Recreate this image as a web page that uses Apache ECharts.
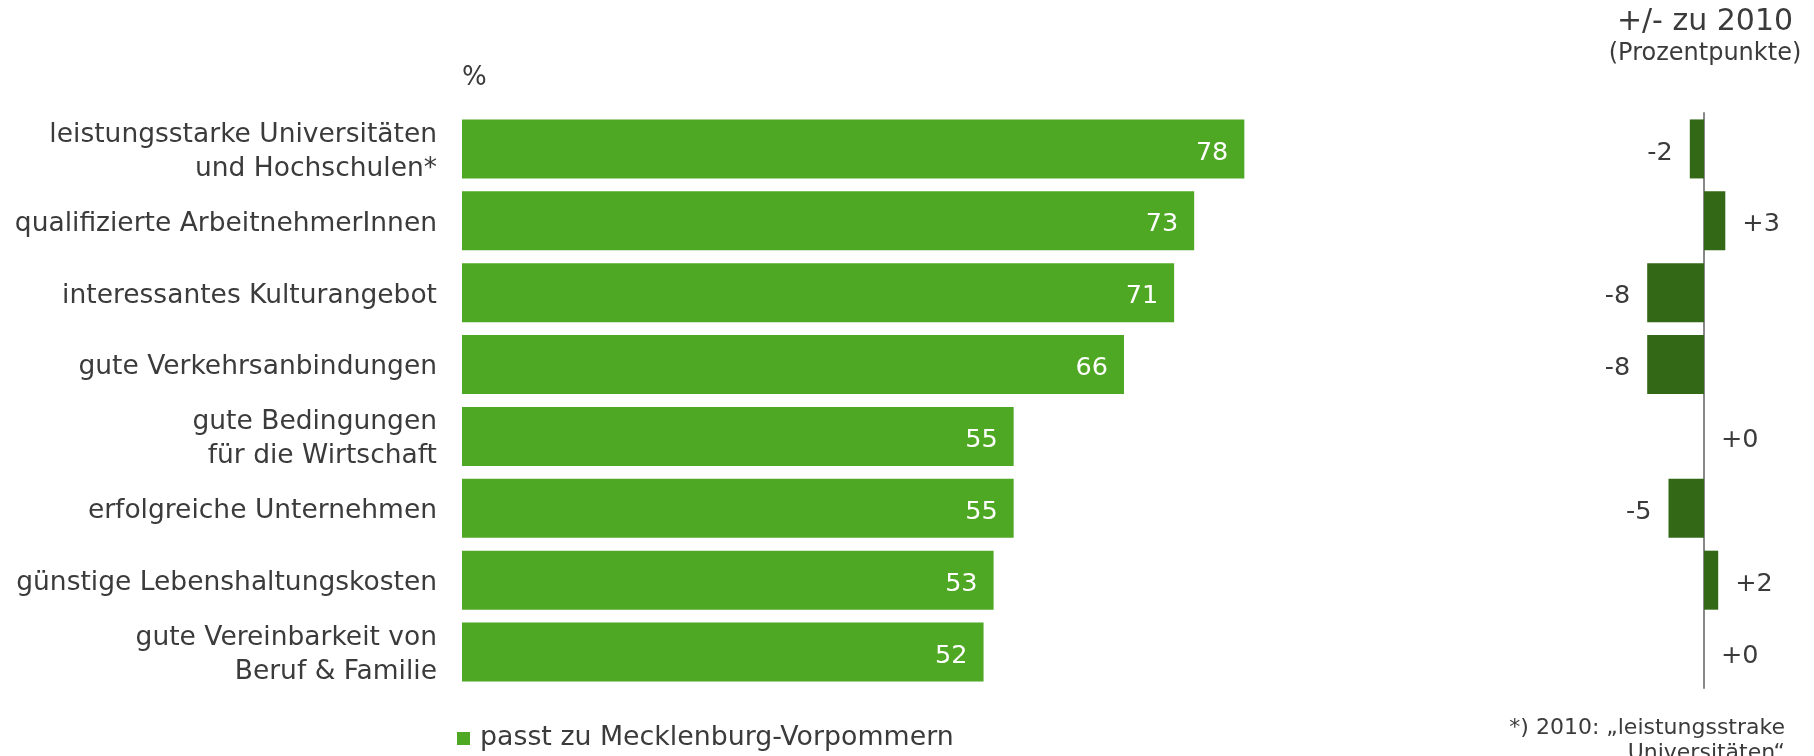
<!DOCTYPE html>
<html>
<head>
<meta charset="utf-8">
<script src="https://cdn.jsdelivr.net/npm/echarts@6/dist/echarts.min.js"></script>
<style>
  html, body { margin: 0; padding: 0; background: #fff; }
  #main { width: 1814px; height: 756px; }
</style>
</head>
<body>
<div id="main"></div>
<script>
// Merkmale, die zu Mecklenburg-Vorpommern passen
let categories = [
  'leistungsstarke Universitäten\nund Hochschulen*',
  'qualifizierte ArbeitnehmerInnen',
  'interessantes Kulturangebot',
  'gute Verkehrsanbindungen',
  'gute Bedingungen\nfür die Wirtschaft',
  'erfolgreiche Unternehmen',
  'günstige Lebenshaltungskosten',
  'gute Vereinbarkeit von\nBeruf & Familie'
];
let shares = [78, 73, 71, 66, 55, 55, 53, 52];
let changes = [-2, 3, -8, -8, 0, -5, 2, 0];

const FONT = '"DejaVu Sans", Verdana, sans-serif';
const TEXT = '#3b3b3b';
const GREEN = '#4fa823';
const DARK = '#336916';

let myChart = echarts.init(document.getElementById('main'));

// labels for the change bars: negative ones sit left of the bar
let changeData = changes.map((v) => {
  return {
    value: v,
    label: { position: v < 0 ? 'left' : 'right' }
  };
});

myChart.setOption({
  animation: false,
  textStyle: { fontFamily: FONT },
  grid: [
    { left: 462, top: 113, width: 1003, height: 575 },
    { left: 1633, top: 113, width: 142, height: 575 }
  ],
  legend: {
    data: ['passt zu Mecklenburg-Vorpommern'],
    left: 452,
    top: 720,
    icon: 'rect',
    itemWidth: 13,
    itemHeight: 13,
    textStyle: { fontSize: 26.8, color: TEXT, fontFamily: FONT, padding: [2, 0, 0, 5] }
  },
  xAxis: [
    { gridIndex: 0, type: 'value', min: 0, max: 100, show: false },
    { gridIndex: 1, type: 'value', min: -10, max: 10, show: false }
  ],
  yAxis: [
    {
      gridIndex: 0,
      type: 'category',
      inverse: true,
      data: categories,
      axisLine: { show: false },
      axisTick: { show: false },
      axisLabel: {
        fontSize: 26.5,
        color: TEXT,
        margin: 25,
        lineHeight: 34,
        // Zeilen etwas tiefer setzen, wie im Original
        formatter: (v) => v.split('\n').map((s) => '{t|' + s + '}').join('\n'),
        rich: {
          t: { fontSize: 26.5, color: TEXT, lineHeight: 34, padding: [6, 0, 0, 0], fontFamily: FONT }
        },
        align: 'right'
      }
    },
    {
      gridIndex: 1,
      type: 'category',
      inverse: true,
      data: categories,
      axisLine: { show: true, onZero: true, lineStyle: { color: '#888', width: 2 } },
      axisTick: { show: false },
      axisLabel: { show: false }
    }
  ],
  graphic: [
    {
      type: 'text', left: 462, top: 65,
      style: { text: '%', fontSize: 26, fill: TEXT, fontFamily: FONT }
    },
    {
      type: 'text', x: 1705, y: 22,
      style: { text: '+/- zu 2010', fontSize: 30, fill: TEXT, fontFamily: FONT,
        textAlign: 'center', textVerticalAlign: 'middle' }
    },
    {
      type: 'text', x: 1705, y: 54,
      style: { text: '(Prozentpunkte)', fontSize: 24, fill: TEXT, fontFamily: FONT,
        textAlign: 'center', textVerticalAlign: 'middle' }
    },
    {
      type: 'text', x: 1785, y: 716,
      style: { text: '*) 2010: „leistungsstrake\nUniversitäten“', fontSize: 22, lineHeight: 25,
        fill: TEXT, fontFamily: FONT, textAlign: 'right', textVerticalAlign: 'top' }
    }
  ],
  series: [
    {
      name: 'passt zu Mecklenburg-Vorpommern',
      type: 'bar',
      xAxisIndex: 0,
      yAxisIndex: 0,
      data: shares,
      barWidth: 59,
      itemStyle: { color: GREEN },
      label: {
        show: true,
        position: 'insideRight',
        distance: 16,
        offset: [0, 4],
        color: '#fff',
        fontSize: 25.5,
        fontFamily: FONT
      }
    },
    {
      name: '+/- zu 2010',
      type: 'bar',
      xAxisIndex: 1,
      yAxisIndex: 1,
      data: changeData,
      barWidth: 59,
      itemStyle: { color: DARK },
      label: {
        show: true,
        distance: 17,
        offset: [0, 4],
        color: TEXT,
        fontSize: 25.5,
        fontFamily: FONT,
        formatter: (p) => (p.value > 0 ? '+' + p.value : p.value < 0 ? String(p.value) : '+0')
      }
    }
  ]
});
</script>
</body>
</html>
